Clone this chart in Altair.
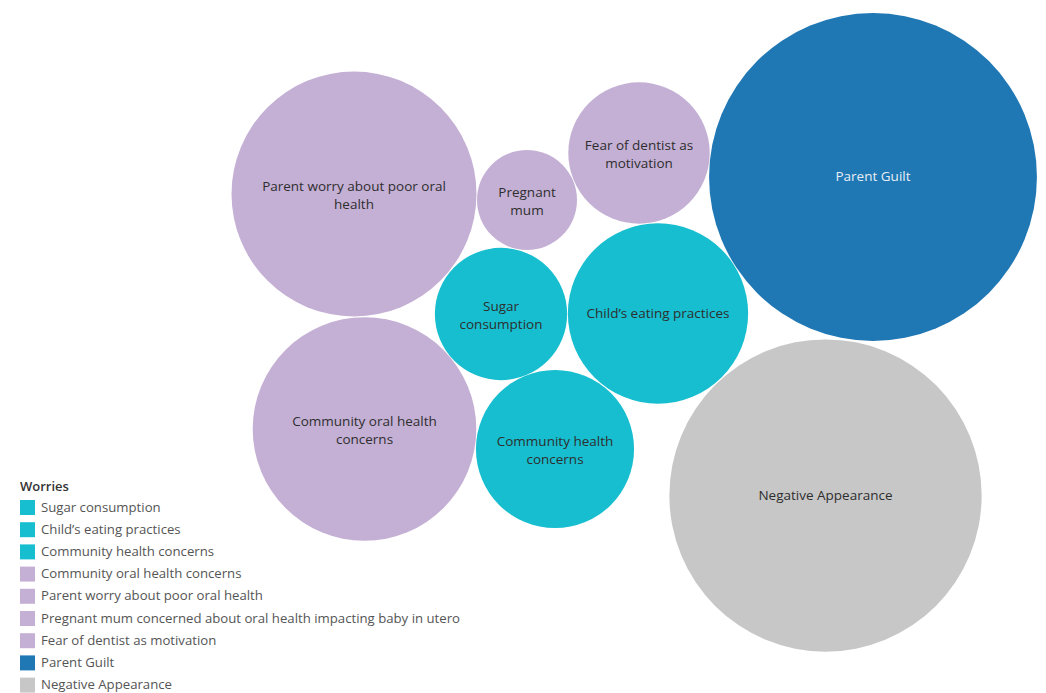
import altair as alt
import pandas as pd

# Worries in legend order
worries = [
    "Sugar consumption",
    "Child\u2019s eating practices",
    "Community health concerns",
    "Community oral health concerns",
    "Parent worry about poor oral health",
    "Pregnant mum concerned about oral health impacting baby in utero",
    "Fear of dentist as motivation",
    "Parent Guilt",
    "Negative Appearance",
]
bubble_labels = [
    "Sugar\nconsumption",
    "Child\u2019s eating practices",
    "Community health\nconcerns",
    "Community oral health\nconcerns",
    "Parent worry about poor oral\nhealth",
    "Pregnant\nmum",
    "Fear of dentist as\nmotivation",
    "Parent Guilt",
    "Negative Appearance",
]
counts = [7, 13, 10, 20, 24, 4, 8, 43, 39]
# packed-bubble layout centres (layout units)
layout_x = [501, 658, 555, 364.5, 354, 527, 639, 873, 825.5]
layout_y = [314, 313.5, 449, 429, 194, 200, 153, 177, 495.5]
colors = ["#17becf", "#17becf", "#17becf", "#c5b0d5", "#c5b0d5",
          "#c5b0d5", "#c5b0d5", "#1f77b4", "#c7c7c7"]
label_colors = ["#2e2e2e"] * 7 + ["#e8eef5", "#2e2e2e"]

df = pd.DataFrame({
    "Worries": worries,
    "label": bubble_labels,
    "count": counts,
    "lx": layout_x,
    "ly": layout_y,
    "tcolor": label_colors,
})
df["multi"] = df["label"].str.contains("\n")

W, H = 1030, 677
FONT = "Open Sans"

x = alt.X("lx:Q", scale=alt.Scale(domain=[8, 8 + W], nice=False, zero=False), axis=None)
y = alt.Y("ly:Q", scale=alt.Scale(domain=[8, 8 + H], nice=False, zero=False, reverse=True), axis=None)

bubbles = alt.Chart(df).mark_circle(opacity=1, stroke=None).encode(
    x=x,
    y=y,
    size=alt.Size("count:Q", scale=alt.Scale(type="linear", domain=[0, 43], range=[0, 2500 * 43], zero=True), legend=None),
    color=alt.Color(
        "Worries:N",
        scale=alt.Scale(domain=worries, range=colors),
        sort=worries,
        legend=alt.Legend(
            title="Worries",
            orient="none",
            legendX=12,
            legendY=473,
            symbolType="square",
            symbolSize=225,
            symbolStrokeWidth=0,
            symbolOpacity=1,
            labelFont=FONT,
            labelFontSize=13.2,
            labelColor="#555555",
            labelOffset=6,
            titleFont=FONT,
            titleFontSize=13,
            titleFontWeight=600,
            titleColor="#333333",
            titlePadding=6,
            rowPadding=7.2,
            padding=0,
            labelLimit=600,
        ),
    ),
)

text_common = dict(font=FONT, fontSize=13.5, lineBreak="\n", lineHeight=18, align="center", baseline="middle")

labels_single = alt.Chart(df).transform_filter("!datum.multi").mark_text(**text_common).encode(
    x=x, y=y, text="label:N", color=alt.Color("tcolor:N", scale=None),
)
labels_multi = alt.Chart(df).transform_filter("datum.multi").mark_text(dy=-7.5, **text_common).encode(
    x=x, y=y, text="label:N", color=alt.Color("tcolor:N", scale=None),
)

chart = alt.layer(bubbles, labels_single, labels_multi).properties(
    width=W, height=H,
    padding={"left": 0, "top": 0, "right": 0, "bottom": 12},
    autosize=alt.AutoSizeParams(type="none"),
).configure_view(stroke=None)

chart.save("out.html", embed_options={"renderer": "svg", "actions": False})
